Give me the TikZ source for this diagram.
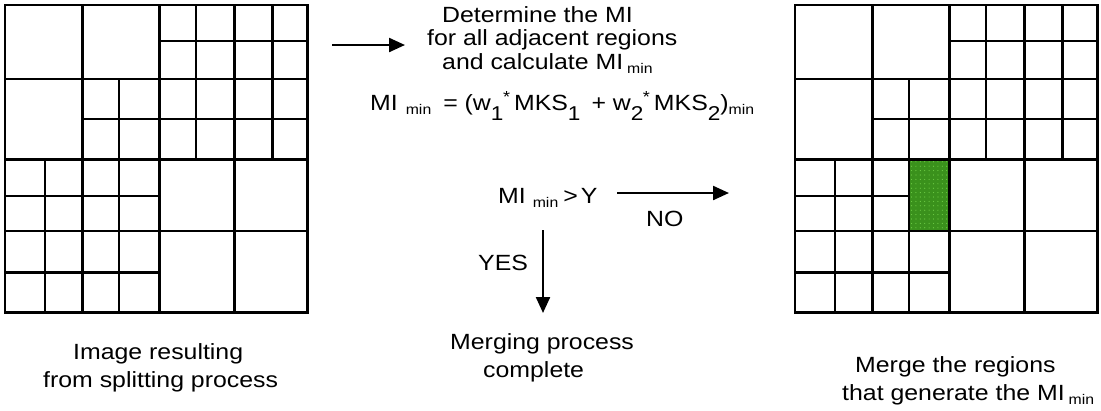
\documentclass[tikz,border=0pt]{standalone}
\usepackage{fontspec}
\setmainfont{Liberation Sans}[FakeStretch=1.13]
\usetikzlibrary{arrows.meta}
\definecolor{mergegreen}{RGB}{58,145,28}
\definecolor{dotgreen}{RGB}{110,205,70}
\newcommand\mn{\raisebox{-4pt}{\fontsize{14}{14}\selectfont min}}
\newcommand\lo[1]{\raisebox{-10pt}{\fontsize{20}{20}\selectfont #1}}
\newcommand\supst{\raisebox{8pt}{\fontsize{16}{16}\selectfont *}}
\def\xA{0}\def\xB{40}\def\xC{77.7}\def\xD{114}\def\xE{154.3}\def\xF{191}\def\xG{229.3}\def\xH{267.7}\def\xI{302.3}
\def\yA{5}\def\yB{41}\def\yC{79}\def\yD{119}\def\yE{159.3}\def\yF{196}\def\yG{231}\def\yH{272.7}\def\yI{312.7}
\newcommand\qgrid[1]{%
 \draw[gl] (\xA,\yA) rectangle (\xI,\yI);
 \draw[gl] (\xB,\yE) -- (\xB,\yI);
 \draw[gl] (\xC,\yA) -- (\xC,\yI);
 \draw[gl] (\xD,\yC) -- (\xD,\yI);
 \draw[gl] (\xE,\yA) -- (\xE,\yI);
 \draw[gl] (\xF,\yA) -- (\xF,\yE);
 \draw[gl] (\xG,\yA) -- (\xG,\yI);
 \draw[gl] (\xH,\yA) -- (\xH,\yE);
 \draw[gl] (\xE,\yB) -- (\xI,\yB);
 \draw[gl] (\xA,\yC) -- (\xI,\yC);
 \draw[gl] (\xC,\yD) -- (\xI,\yD);
 \draw[gl] (\xA,\yE) -- (\xI,\yE);
 \draw[gl] (\xA,\yF) -- (#1,\yF);
 \draw[gl] (\xA,\yG) -- (\xI,\yG);
 \draw[gl] (\xA,\yH) -- (\xE,\yH);
}
\begin{document}
\begin{tikzpicture}[x=1pt,y=-1pt,
  gl/.style={line width=2.5pt, line cap=rect, black},
  arr/.style={line width=2.3pt, -{Triangle[length=16pt,width=14pt]}},
  txt/.style={inner sep=0pt, anchor=base west, font=\fontsize{22}{26}\selectfont}]
\useasboundingbox (0,0) rectangle (1101,410);
\fill[white] (0,0) rectangle (1101,410);
% left grid
\begin{scope}[xshift=5pt]
 \qgrid{\xE}
\end{scope}
% right grid
\begin{scope}[xshift=795pt]
 \fill[mergegreen] (\xD,\yE) rectangle (\xE,\yG);
 \foreach \i in {0,...,8} \foreach \j in {0,...,15}
   \fill[dotgreen] (\xD+2.5+\i*4.4, \yE+2.5+\j*4.4) circle (0.6pt);
 \qgrid{\xD}
\end{scope}
% texts
\node[txt] (t1) at (442,22) {Determine the MI};
\node[txt] (t2) at (427,45.5) {for all adjacent regions};
\node[txt] (t3) at (442,69) {and calculate MI\hspace{4pt}\mn};
\node[txt] (form) at (370,110) {MI\hspace{8pt}\mn\hspace{12pt}= (w\lo{1}\kern-0.5pt\supst\hspace{4pt}MKS\lo{1}\hspace{11pt}+ w\lo{2}\kern-0.5pt\supst\hspace{4pt}MKS\lo{2})\mn};
\node[txt] (cond) at (498,203) {MI\hspace{7pt}\mn\hspace{5pt}>\hspace{3pt}Y};
\node[txt] (no) at (646,226) {NO};
\node[txt] (yes) at (478,270) {YES};
\node[txt] (m1) at (450,349) {Merging process};
\node[txt] (m2) at (483,377) {complete};
\node[txt] (l1) at (73,359) {Image resulting};
\node[txt] (l2) at (43,387) {from splitting process};
\node[txt] (r1) at (855,372) {Merge the regions};
\node[txt] (r2) at (842,400) {that generate the MI\hspace{4pt}\mn};
% arrows
\coordinate (a1s) at (332,45);
\coordinate (a1e) at (405,45);
\draw[arr] (a1s) -- (a1e);
\coordinate (nos) at (617,193);
\coordinate (noe) at (729,193);
\draw[arr] (nos) -- (noe);
\coordinate (yss) at (543,230);
\coordinate (yse) at (543,313);
\draw[arr] (yss) -- (yse);
\end{tikzpicture}
\end{document}
